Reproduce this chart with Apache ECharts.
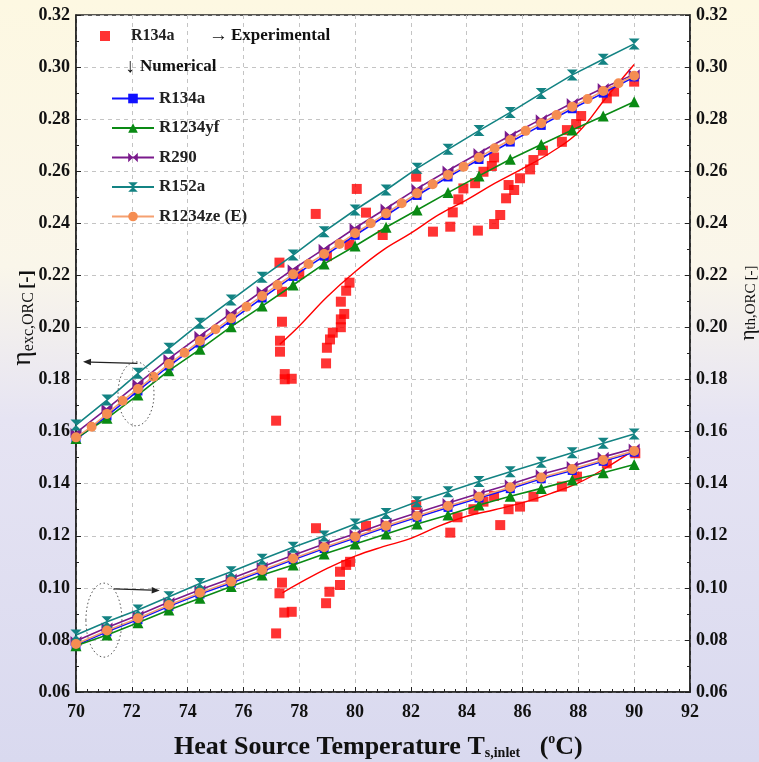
<!DOCTYPE html>
<html>
<head>
<meta charset="utf-8">
<script src="https://cdn.jsdelivr.net/npm/echarts@6/dist/echarts.min.js"></script>
<style>
  html, body { margin: 0; padding: 0; }
  #chart { width: 759px; height: 762px; }
</style>
</head>
<body>
<div id="chart"></div>
<script>
// Heat source inlet temperature (°C) used by the cycle model
const tempNum = [70, 71.11, 72.22, 73.33, 74.44, 75.56, 76.67, 77.78, 78.89, 80,
  81.11, 82.22, 83.33, 84.44, 85.56, 86.67, 87.78, 88.89, 90];
// Finer temperature grid used for the R1234ze(E) exergy curve
const tempFine = [70, 70.56, 71.11, 71.67, 72.22, 72.78, 73.33, 73.89, 74.44, 75,
  75.56, 76.11, 76.67, 77.22, 77.78, 78.33, 78.89, 79.44, 80, 80.56, 81.11, 81.67,
  82.22, 82.78, 83.33, 83.89, 84.44, 85, 85.56, 86.11, 86.67, 87.22, 87.78, 88.33,
  88.89, 89.44, 90];

// Exergy efficiency of the ORC (numerical)
const excR134a = [0.1570, 0.1660, 0.1756, 0.1852, 0.1940, 0.2027, 0.2113, 0.2196, 0.2274, 0.2354,
  0.2430, 0.2507, 0.2578, 0.2645, 0.2712, 0.2776, 0.2840, 0.2900, 0.2962];
const excR1234yf = [0.1574, 0.1651, 0.1741, 0.1834, 0.1916, 0.2003, 0.2082, 0.2163, 0.2244, 0.2313,
  0.2385, 0.2451, 0.2518, 0.2582, 0.2646, 0.2703, 0.2758, 0.2812, 0.2867];
const excR290 = [0.1595, 0.1688, 0.1784, 0.1880, 0.1968, 0.2055, 0.2140, 0.2224, 0.2302, 0.2382,
  0.2457, 0.2533, 0.2603, 0.2670, 0.2737, 0.2800, 0.2862, 0.2920, 0.2972];
const excR152a = [0.1625, 0.1721, 0.1824, 0.1920, 0.2016, 0.2105, 0.2193, 0.2278, 0.2368, 0.2451,
  0.2528, 0.2611, 0.2684, 0.2756, 0.2826, 0.2899, 0.2970, 0.3030, 0.3089];
const excR1234ze = [0.1578, 0.1619, 0.1668, 0.1719, 0.1764, 0.1811, 0.1860, 0.1903, 0.1948, 0.1993,
  0.2035, 0.2080, 0.2121, 0.2163, 0.2204, 0.2244, 0.2282, 0.2321, 0.2362, 0.2400, 0.2438, 0.2477,
  0.2515, 0.2550, 0.2586, 0.2617, 0.2653, 0.2688, 0.2720, 0.2755, 0.2784, 0.2816, 0.2848, 0.2877,
  0.2908, 0.2938, 0.2967];

// Thermal efficiency of the ORC (numerical)
const thR134a = [0.0779, 0.0831, 0.0878, 0.0929, 0.0976, 0.1019, 0.1064, 0.1108, 0.1151, 0.1191,
  0.1233, 0.1271, 0.1309, 0.1345, 0.1381, 0.1419, 0.1451, 0.1486, 0.1521];
const thR1234yf = [0.0778, 0.0819, 0.0866, 0.0915, 0.0960, 0.1005, 0.1049, 0.1088, 0.1130, 0.1168,
  0.1207, 0.1245, 0.1280, 0.1318, 0.1352, 0.1382, 0.1414, 0.1442, 0.1474];
const thR290 = [0.0796, 0.0848, 0.0895, 0.0946, 0.0993, 0.1036, 0.1081, 0.1125, 0.1168, 0.1208,
  0.1250, 0.1288, 0.1326, 0.1362, 0.1398, 0.1436, 0.1468, 0.1503, 0.1535];
const thR152a = [0.0819, 0.0870, 0.0915, 0.0966, 0.1017, 0.1062, 0.1110, 0.1156, 0.1199, 0.1245,
  0.1286, 0.1331, 0.1369, 0.1408, 0.1446, 0.1482, 0.1519, 0.1555, 0.1591];
const thR1234ze = [0.0784, 0.0836, 0.0883, 0.0934, 0.0981, 0.1024, 0.1069, 0.1113, 0.1156, 0.1196,
  0.1238, 0.1276, 0.1314, 0.1350, 0.1386, 0.1424, 0.1456, 0.1491, 0.1526];

// Experimental R134a exergy efficiency
const expExcT = [77.17, 77.31, 77.31, 77.38, 77.48, 77.48, 77.73, 77.38, 77.29, 78.0, 78.99, 78.59,
  78.96, 78.99, 79.10, 79.20, 79.49, 79.49, 79.61, 79.49, 79.68, 79.80, 79.80, 80.06, 80.39, 80.99,
  82.19, 82.79, 83.41, 83.50, 83.70, 83.88, 84.30, 84.40, 84.60, 84.90, 84.98, 84.98, 85.20, 85.41,
  85.50, 85.70, 85.91, 86.27, 86.39, 86.73, 87.41, 87.59, 87.92, 88.10, 89.02, 89.28, 90.0];
const expExcVal = [0.1642, 0.1907, 0.1949, 0.2022, 0.1801, 0.1821, 0.1803, 0.2137, 0.2249, 0.2205, 0.2274, 0.2436,
  0.1862, 0.1922, 0.1954, 0.1980, 0.2001, 0.2031, 0.2052, 0.2099, 0.2141, 0.2172, 0.2317, 0.2532, 0.2441, 0.2355,
  0.2579, 0.2368, 0.2387, 0.2442, 0.2492, 0.2534, 0.2554, 0.2372, 0.2598, 0.2620, 0.2653, 0.2397, 0.2432, 0.2496,
  0.2547, 0.2528, 0.2573, 0.2607, 0.2643, 0.2679, 0.2713, 0.2758, 0.2781, 0.2812, 0.2880, 0.2906, 0.2944];

// Experimental R134a thermal efficiency
const expThT = [77.17, 77.29, 77.38, 77.46, 77.73, 78.60, 78.96, 79.08, 79.46, 79.46, 79.68, 79.82,
  80.39, 82.19, 83.41, 83.67, 84.24, 84.60, 84.98, 85.20, 85.50, 85.91, 86.39, 87.41, 87.95, 89.02, 90.04];
const expThVal = [0.0825, 0.0979, 0.1020, 0.0905, 0.0908, 0.1229, 0.0941, 0.0985, 0.1011, 0.1062, 0.1088, 0.1100,
  0.1238, 0.1318, 0.1212, 0.1271, 0.1302, 0.1331, 0.1353, 0.1241, 0.1302, 0.1312, 0.1350, 0.1389, 0.1427, 0.1478, 0.1517];

// Curve fitted through the experimental points
const fitExcT = [77.3, 78, 79, 80, 81, 82, 83, 84, 85, 86, 87, 88, 89, 90];
const fitExcVal = [0.1935, 0.2006, 0.2118, 0.2214, 0.2297, 0.2362, 0.2433, 0.2490, 0.2553, 0.2610, 0.2671, 0.2750, 0.2883, 0.3010];
const fitThT = [77.4, 78, 79, 80, 81, 82, 83, 84, 85, 86, 87, 88, 89, 90];
const fitThVal = [0.0981, 0.1018, 0.1075, 0.1122, 0.1158, 0.1190, 0.1237, 0.1275, 0.1300, 0.1327, 0.1362, 0.1403, 0.1462, 0.1530];

const SERIF = 'Liberation Serif';
const legendNames = { 'exp-R134a': 'R134a', 'num-R134a': 'R134a' };

const HOURGLASS = 'path://M0,0L10,0L5,5L10,10L0,10L5,5Z';
const BOWTIE = 'path://M0,0L5,5L0,10ZM10,0L5,5L10,10Z';

function pairs(xs, ys) { return xs.map((x, i) => [x, ys[i]]); }

function numSeries(name, xs, ys, axis, color, symbol, size, z, fill) {
  return {
    name, type: 'line', xAxisIndex: 0, yAxisIndex: axis,
    data: pairs(xs, ys), symbol, symbolSize: size, showSymbol: true, z,
    lineStyle: { color, width: 1.6 },
    itemStyle: { color: fill || color, borderWidth: 0 },
    emphasis: { disabled: true }, animation: false
  };
}

const series = [
  { name: 'exp-R134a', type: 'scatter', yAxisIndex: 0, data: pairs(expExcT, expExcVal),
    symbol: 'rect', symbolSize: 10, itemStyle: { color: '#ff0000' }, z: 2, animation: false },
  { name: 'exp-R134a', type: 'scatter', yAxisIndex: 1, data: pairs(expThT, expThVal),
    symbol: 'rect', symbolSize: 10, itemStyle: { color: '#ff0000' }, z: 2, animation: false },
  { name: 'fit', type: 'line', yAxisIndex: 0, data: pairs(fitExcT, fitExcVal), smooth: 0.4,
    showSymbol: false, lineStyle: { color: '#ff0000', width: 1.4 }, z: 3, animation: false },
  { name: 'fit', type: 'line', yAxisIndex: 1, data: pairs(fitThT, fitThVal), smooth: 0.4,
    showSymbol: false, lineStyle: { color: '#ff0000', width: 1.4 }, z: 3, animation: false },
  numSeries('num-R134a', tempNum, excR134a, 0, '#1010ff', 'rect', 9, 4),
  numSeries('num-R134a', tempNum, thR134a, 1, '#1010ff', 'rect', 9, 4),
  numSeries('R290', tempNum, excR290, 0, '#7a1a8c', BOWTIE, [11, 10], 5),
  numSeries('R290', tempNum, thR290, 1, '#7a1a8c', BOWTIE, [11, 10], 5),
  numSeries('R1234yf', tempNum, excR1234yf, 0, '#0a8a14', 'triangle', 11, 6),
  numSeries('R1234yf', tempNum, thR1234yf, 1, '#0a8a14', 'triangle', 11, 6),
  numSeries('R152a', tempNum, excR152a, 0, '#138383', HOURGLASS, [11, 11], 6),
  numSeries('R152a', tempNum, thR152a, 1, '#138383', HOURGLASS, [11, 11], 6),
  numSeries('R1234ze (E)', tempFine, excR1234ze, 0, '#f5a070', 'circle', 10, 7, '#f58d52'),
  numSeries('R1234ze (E)', tempNum, thR1234ze, 1, '#f5a070', 'circle', 10, 7, '#f58d52')
];

const axisCommon = {
  min: 0.06, max: 0.32, interval: 0.02,
  axisLine: { show: true, lineStyle: { color: '#222', width: 1.5 } },
  axisTick: { show: true, inside: true, length: 5, lineStyle: { color: '#222' } },
  minorTick: { show: true, splitNumber: 2, length: 3, lineStyle: { color: '#222' } },
  axisLabel: { fontFamily: SERIF, fontWeight: 'bold', fontSize: 18, color: '#111', margin: 6,
    formatter: v => v.toFixed(2) }
};

const chart = echarts.init(document.getElementById('chart'), null, { renderer: 'canvas' });

chart.setOption({
  animation: false,
  backgroundColor: {
    type: 'linear', x: 0, y: 0, x2: 0, y2: 1,
    colorStops: [
      { offset: 0, color: '#fdf8e2' },
      { offset: 0.35, color: '#faf6ea' },
      { offset: 0.55, color: '#e6e4f3' },
      { offset: 1, color: '#d9d9ef' }
    ]
  },
  grid: { left: 76, right: 69, top: 15, bottom: 70, show: true, backgroundColor: '#ffffff',
    borderColor: '#222', borderWidth: 1.5 },
  xAxis: {
    type: 'value', min: 70, max: 92, interval: 2,
    axisLine: { show: true, lineStyle: { color: '#222', width: 1.5 } },
    axisTick: { show: true, inside: true, length: 5, lineStyle: { color: '#222' } },
    minorTick: { show: true, splitNumber: 5, length: 3, lineStyle: { color: '#222' } },
    splitLine: { show: true, lineStyle: { color: '#c4c4c4', type: [4, 4], width: 1 } },
    axisLabel: { fontFamily: SERIF, fontWeight: 'bold', fontSize: 18, color: '#111', margin: 11 }
  },
  yAxis: [
    Object.assign({ type: 'value', position: 'left',
      splitLine: { show: true, lineStyle: { color: '#c4c4c4', type: [4, 4], width: 1 } } }, axisCommon),
    Object.assign({ type: 'value', position: 'right', splitLine: { show: false } }, axisCommon)
  ],
  legend: [
    { data: ['exp-R134a'], left: 95, top: 23, icon: 'rect', itemWidth: 10, itemHeight: 10, itemGap: 10,
      formatter: n => legendNames[n] || n,
      textStyle: { fontFamily: SERIF, fontWeight: 'bold', fontSize: 16, color: '#222', padding: [0, 0, 0, 16] },
      selectedMode: false },
    { data: ['num-R134a', 'R1234yf', 'R290', 'R152a', 'R1234ze (E)'], orient: 'vertical',
      left: 106, top: 85, itemWidth: 42, itemHeight: 12, itemGap: 12.5,
      formatter: n => legendNames[n] || n,
      textStyle: { fontFamily: SERIF, fontWeight: 'bold', fontSize: 17, color: '#222' },
      selectedMode: false }
  ],
  series
});

// Annotations: labels, arrows and dotted ellipses drawn in data space
const upperArrow = { from: [72.2, 0.1862], to: [70.25, 0.1868] };
const lowerArrow = { from: [71.35, 0.0996], to: [73.0, 0.0990] };
const upperEllipse = { center: [72.15, 0.1745], rx: 18, ry: 32 };
const lowerEllipse = { center: [71.0, 0.0876], rx: 18, ry: 37 };

function px(pt) { return chart.convertToPixel({ gridIndex: 0 }, pt); }

function arrow(a) {
  const p0 = px(a.from), p1 = px(a.to);
  const ang = Math.atan2(p1[1] - p0[1], p1[0] - p0[0]);
  const L = 8, W = 3.2;
  const bx = p1[0] - L * Math.cos(ang), by = p1[1] - L * Math.sin(ang);
  const nx = -Math.sin(ang), ny = Math.cos(ang);
  return [
    { type: 'line', shape: { x1: p0[0], y1: p0[1], x2: bx, y2: by },
      style: { stroke: '#222', lineWidth: 1.3 }, z: 20 },
    { type: 'polygon', shape: { points: [[p1[0], p1[1]], [bx + nx * W, by + ny * W], [bx - nx * W, by - ny * W]] },
      style: { fill: '#222' }, z: 20 }
  ];
}

function ellipse(e) {
  const c = px(e.center);
  return { type: 'ellipse', shape: { cx: c[0], cy: c[1], rx: e.rx, ry: e.ry },
    style: { fill: null, stroke: '#555', lineWidth: 1, lineDash: [1.5, 2.5] }, z: 20 };
}

const titleFont = { fontFamily: SERIF, fontWeight: 'bold', fill: '#111' };

chart.setOption({
  graphic: [
    ...arrow(upperArrow),
    ...arrow(lowerArrow),
    ellipse(upperEllipse),
    ellipse(lowerEllipse),
    { type: 'text', x: 209, y: 36, z: 20,
      style: Object.assign({ text: '{a|\u2192}{t|Experimental}', verticalAlign: 'middle',
        rich: { a: { fontSize: 19, fontFamily: SERIF, fill: '#111', padding: [0, 3, 0, 0] },
                t: { fontSize: 17, fontFamily: SERIF, fontWeight: 'bold', fill: '#111' } } }, titleFont) },
    { type: 'text', x: 125, y: 67, z: 20,
      style: Object.assign({ text: '{a|\u2193}{t|Numerical}', verticalAlign: 'middle',
        rich: { a: { fontSize: 20, fontFamily: SERIF, fontWeight: 'bold', fill: '#111', padding: [0, 5, 0, 0] },
                t: { fontSize: 17, fontFamily: SERIF, fontWeight: 'bold', fill: '#111' } } }, titleFont) },
    { type: 'text', x: 22, y: 318, rotation: Math.PI / 2, z: 20,
      style: Object.assign({
        text: '{e|\u03b7}{s|exc,ORC} {b|[-]}', align: 'center', verticalAlign: 'middle',
        rich: {
          e: { fontSize: 28, fontFamily: SERIF, fill: '#111', lineHeight: 30, verticalAlign: 'bottom' },
          s: { fontSize: 16, fontFamily: SERIF, fill: '#111', verticalAlign: 'bottom' },
          b: { fontSize: 19, fontFamily: SERIF, fontWeight: 'bold', fill: '#111', verticalAlign: 'bottom' }
        } }, titleFont) },
    { type: 'text', x: 748, y: 303, rotation: Math.PI / 2, z: 20,
      style: Object.assign({
        text: '{e|\u03b7}{s|th,ORC} {b|[-]}', align: 'center', verticalAlign: 'middle',
        rich: {
          e: { fontSize: 21, fontFamily: SERIF, fill: '#111', verticalAlign: 'bottom' },
          s: { fontSize: 15, fontFamily: SERIF, fill: '#111', verticalAlign: 'bottom' },
          b: { fontSize: 15, fontFamily: SERIF, fill: '#111', verticalAlign: 'bottom' }
        } }, titleFont) },
    { type: 'text', x: 174, y: 746, z: 20,
      style: Object.assign({
        text: '{m|Heat Source Temperature T}{s|s,inlet}{m|   (}{o|o}{m|C)}', verticalAlign: 'middle',
        rich: {
          m: { fontSize: 26, fontFamily: SERIF, fontWeight: 'bold', fill: '#111', verticalAlign: 'bottom', lineHeight: 28 },
          s: { fontSize: 14, fontFamily: SERIF, fontWeight: 'bold', fill: '#111', verticalAlign: 'bottom', lineHeight: 20 },
          o: { fontSize: 14, fontFamily: SERIF, fontWeight: 'bold', fill: '#111', verticalAlign: 'top', lineHeight: 28 }
        } }, titleFont) }
  ]
});
</script>
</body>
</html>
